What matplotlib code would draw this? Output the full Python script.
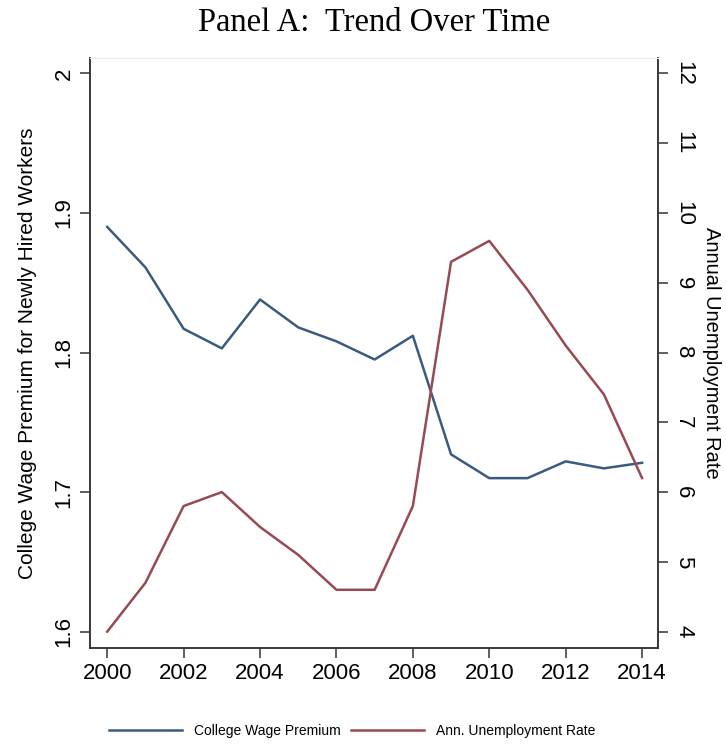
import matplotlib
matplotlib.use("Agg")
import matplotlib.pyplot as plt

# data
years = [2000, 2001, 2002, 2003, 2004, 2005, 2006, 2007,
         2008, 2009, 2010, 2011, 2012, 2013, 2014]
wage_premium = [1.890, 1.861, 1.817, 1.803, 1.838, 1.818, 1.808, 1.795,
                1.812, 1.727, 1.710, 1.710, 1.722, 1.717, 1.721]
unemployment = [4.0, 4.7, 5.8, 6.0, 5.5, 5.1, 4.6, 4.6,
                5.8, 9.3, 9.6, 8.9, 8.1, 7.4, 6.2]

x_ticks = [2000, 2002, 2004, 2006, 2008, 2010, 2012, 2014]
left_ticks = [1.6, 1.7, 1.8, 1.9, 2.0]
left_labels = ["1.6", "1.7", "1.8", "1.9", "2"]
right_ticks = [4, 5, 6, 7, 8, 9, 10, 11, 12]

blue = "#3b5b7e"
red = "#984a52"
sans = "Liberation Sans"

fig = plt.figure(figsize=(7.26, 7.46), dpi=100)
ax = fig.add_axes([0.124, 0.1314, 0.782, 0.7906])
ax2 = ax.twinx()

l1, = ax.plot(years, wage_premium, color=blue, lw=1.8,
              label="College Wage Premium")
l2, = ax2.plot(years, unemployment, color=red, lw=1.8,
               label="Ann. Unemployment Rate")

ax.set_xlim(1999.55, 2014.41)
ax.set_ylim(1.5883, 2.0109)
ax2.set_ylim(3.766, 12.218)

ax.set_xticks(x_ticks)
ax.set_xticklabels([str(y) for y in x_ticks], fontsize=16, family=sans)
ax.set_yticks(left_ticks)
ax.set_yticklabels(left_labels, fontsize=16, family=sans,
                   rotation=90, va="center")
ax2.set_yticks(right_ticks)
ax2.set_yticklabels([str(v) for v in right_ticks], fontsize=16, family=sans,
                    rotation=-90, va="center")

for a in (ax, ax2):
    a.tick_params(length=7, width=1.1, color="#333333", pad=4)
    for side in ("left", "right", "bottom"):
        a.spines[side].set_color("#333333")
        a.spines[side].set_linewidth(1.1)
    a.spines["top"].set_color("#e6efee")

ax.set_ylabel("College Wage Premium for Newly Hired Workers",
              fontsize=15, family=sans, labelpad=12)
ax2.set_ylabel("Annual Unemployment Rate", fontsize=14.5, family=sans,
               rotation=-90, labelpad=6, va="bottom")

fig.suptitle("Panel A:  Trend Over Time", x=0.515, y=0.99,
             fontsize=23.5, family="Liberation Serif", va="top")

fig.legend(handles=[l1, l2], loc="lower center", bbox_to_anchor=(0.485, -0.006),
           ncol=2, frameon=False, prop={"family": sans, "size": 10},
           handlelength=5.3, columnspacing=0.7, handletextpad=0.85)

fig.savefig("out.png", dpi=100)
